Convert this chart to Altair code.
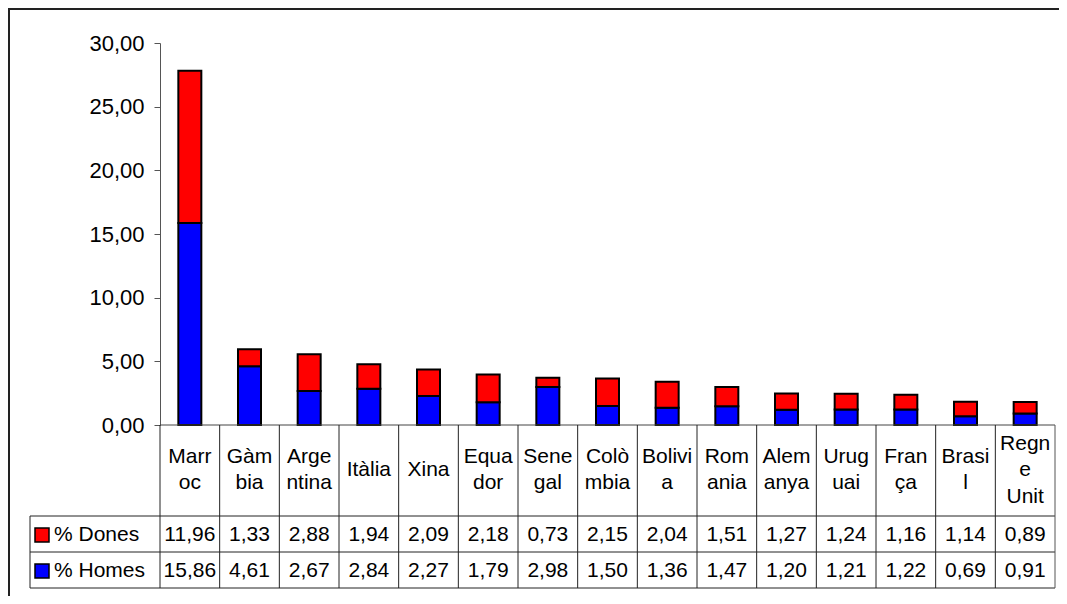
import altair as alt
import pandas as pd

countries = ["Marroc", "Gàmbia", "Argentina", "Itàlia", "Xina", "Equador", "Senegal",
             "Colòmbia", "Bolivia", "Romania", "Alemanya", "Uruguai", "França", "Brasil",
             "Regne Unit"]
header_labels = ["Marr\noc", "Gàm\nbia", "Arge\nntina", "Itàlia", "Xina", "Equa\ndor",
                 "Sene\ngal", "Colò\nmbia", "Bolivi\na", "Rom\nania", "Alem\nanya",
                 "Urug\nuai", "Fran\nça", "Brasi\nl", "Regn\ne\nUnit"]
dones = [11.96, 1.33, 2.88, 1.94, 2.09, 2.18, 0.73, 2.15, 2.04, 1.51, 1.27, 1.24, 1.16, 1.14, 0.89]
homes = [15.86, 4.61, 2.67, 2.84, 2.27, 1.79, 2.98, 1.50, 1.36, 1.47, 1.20, 1.21, 1.22, 0.69, 0.91]
series_names = ["% Dones", "% Homes"]
series_colors = ["#FF0000", "#0000FF"]
y_ticks = [0, 5, 10, 15, 20, 25, 30]

FONT = "Liberation Sans"
FS = 21
W, H = 895, 382

rows = []
for c, d, h in zip(countries, dones, homes):
    rows.append({"country": c, "series": "% Homes", "value": h, "ord": 0})
    rows.append({"country": c, "series": "% Dones", "value": d, "ord": 1})
long_df = pd.DataFrame(rows)
wide_df = pd.DataFrame({"country": countries, "header": header_labels,
                        "dones": dones, "homes": homes})
one = pd.DataFrame({"k": [0]})

xscale = alt.Scale(domain=countries, paddingInner=0, paddingOuter=0)
X = alt.X("country:N", sort=countries, scale=xscale, axis=None)

bars = alt.Chart(long_df).mark_bar(size=23, stroke="black", strokeWidth=2).encode(
    x=X,
    y=alt.Y("value:Q", stack="zero", scale=alt.Scale(domain=[0, 30], nice=False),
            axis=alt.Axis(values=y_ticks, title=None, grid=False,
                          labelExpr="replace(format(datum.value, '.2f'), '.', ',')",
                          labelFont=FONT, labelFontSize=FS + 1, labelColor="black",
                          labelPadding=10, tickSize=6, domainColor="#555",
                          tickColor="#555")),
    color=alt.Color("series:N", scale=alt.Scale(domain=series_names, range=series_colors),
                    legend=None),
    order=alt.Order("ord:Q"),
)

layers = [bars]

# header labels: one layer per line count so each block is centred in its cell
LH = 26.5
for n in [1, 2, 3]:
    layers.append(
        alt.Chart(wide_df).transform_calculate(
            nl="length(split(datum.header, '\\n'))"
        ).transform_filter(f"datum.nl == {n}").mark_text(
            lineBreak="\n", lineHeight=LH, fontSize=FS, font=FONT, baseline="middle",
            align="center", color="black").encode(
            x=X, y=alt.value(427 - (n - 1) * LH / 2), text="header:N"))

row_y = {"% Dones": 491, "% Homes": 527}
fields = {"% Dones": "dones", "% Homes": "homes"}

for i, s in enumerate(series_names):
    f = fields[s]
    layers.append(
        alt.Chart(wide_df).transform_calculate(
            lbl=f"replace(format(datum.{f}, '.2f'), '.', ',')"
        ).mark_text(fontSize=FS, font=FONT, baseline="middle", align="center",
                    color="black").encode(x=X, y=alt.value(row_y[s] + 1), text="lbl:N"))
    layers.append(
        alt.Chart(one).mark_rect(stroke="black", strokeWidth=1.5,
                                 color=series_colors[i]).encode(
            x=alt.value(-125), x2=alt.value(-111),
            y=alt.value(row_y[s] - 6), y2=alt.value(row_y[s] + 8)))
    layers.append(
        alt.Chart(one).mark_text(fontSize=FS, font=FONT, baseline="middle", align="left",
                                 color="black", text=s).encode(
            x=alt.value(-106), y=alt.value(row_y[s] + 1)))

LINE = "#222"
# x axis line
layers.append(alt.Chart(one).mark_rule(color="#444", strokeWidth=1).encode(
    x=alt.value(0), x2=alt.value(W), y=alt.value(H)))
# table horizontal lines
for yy in [473, 509, 545]:
    layers.append(alt.Chart(one).mark_rule(color=LINE, strokeWidth=1).encode(
        x=alt.value(-130), x2=alt.value(W), y=alt.value(yy)))
# table left edge
layers.append(alt.Chart(one).mark_rule(color=LINE, strokeWidth=1).encode(
    x=alt.value(-130), y=alt.value(473), y2=alt.value(545)))
# column boundaries
layers.append(alt.Chart(wide_df).mark_rule(color=LINE, strokeWidth=1).encode(
    x=alt.X("country:N", sort=countries, scale=xscale, axis=None, bandPosition=0),
    y=alt.value(H), y2=alt.value(545)))
layers.append(alt.Chart(one).mark_rule(color="#555", strokeWidth=1).encode(
    x=alt.value(W), y=alt.value(H), y2=alt.value(545)))
# outer border (left and top)
layers.append(alt.Chart(one).mark_rule(color="#222", strokeWidth=2).encode(
    x=alt.value(-151), y=alt.value(-35), y2=alt.value(553)))
layers.append(alt.Chart(one).mark_rule(color="#222", strokeWidth=2).encode(
    x=alt.value(-152), x2=alt.value(W + 5), y=alt.value(-34)))

chart = alt.layer(*layers).properties(
    width=W, height=H,
    autosize=alt.AutoSizeParams(type="none"),
    padding={"left": 152, "top": 35, "right": 4, "bottom": 171},
    background="white",
).configure_view(stroke=None)

chart.save("out.html", embed_options={"renderer": "svg", "actions": False})
